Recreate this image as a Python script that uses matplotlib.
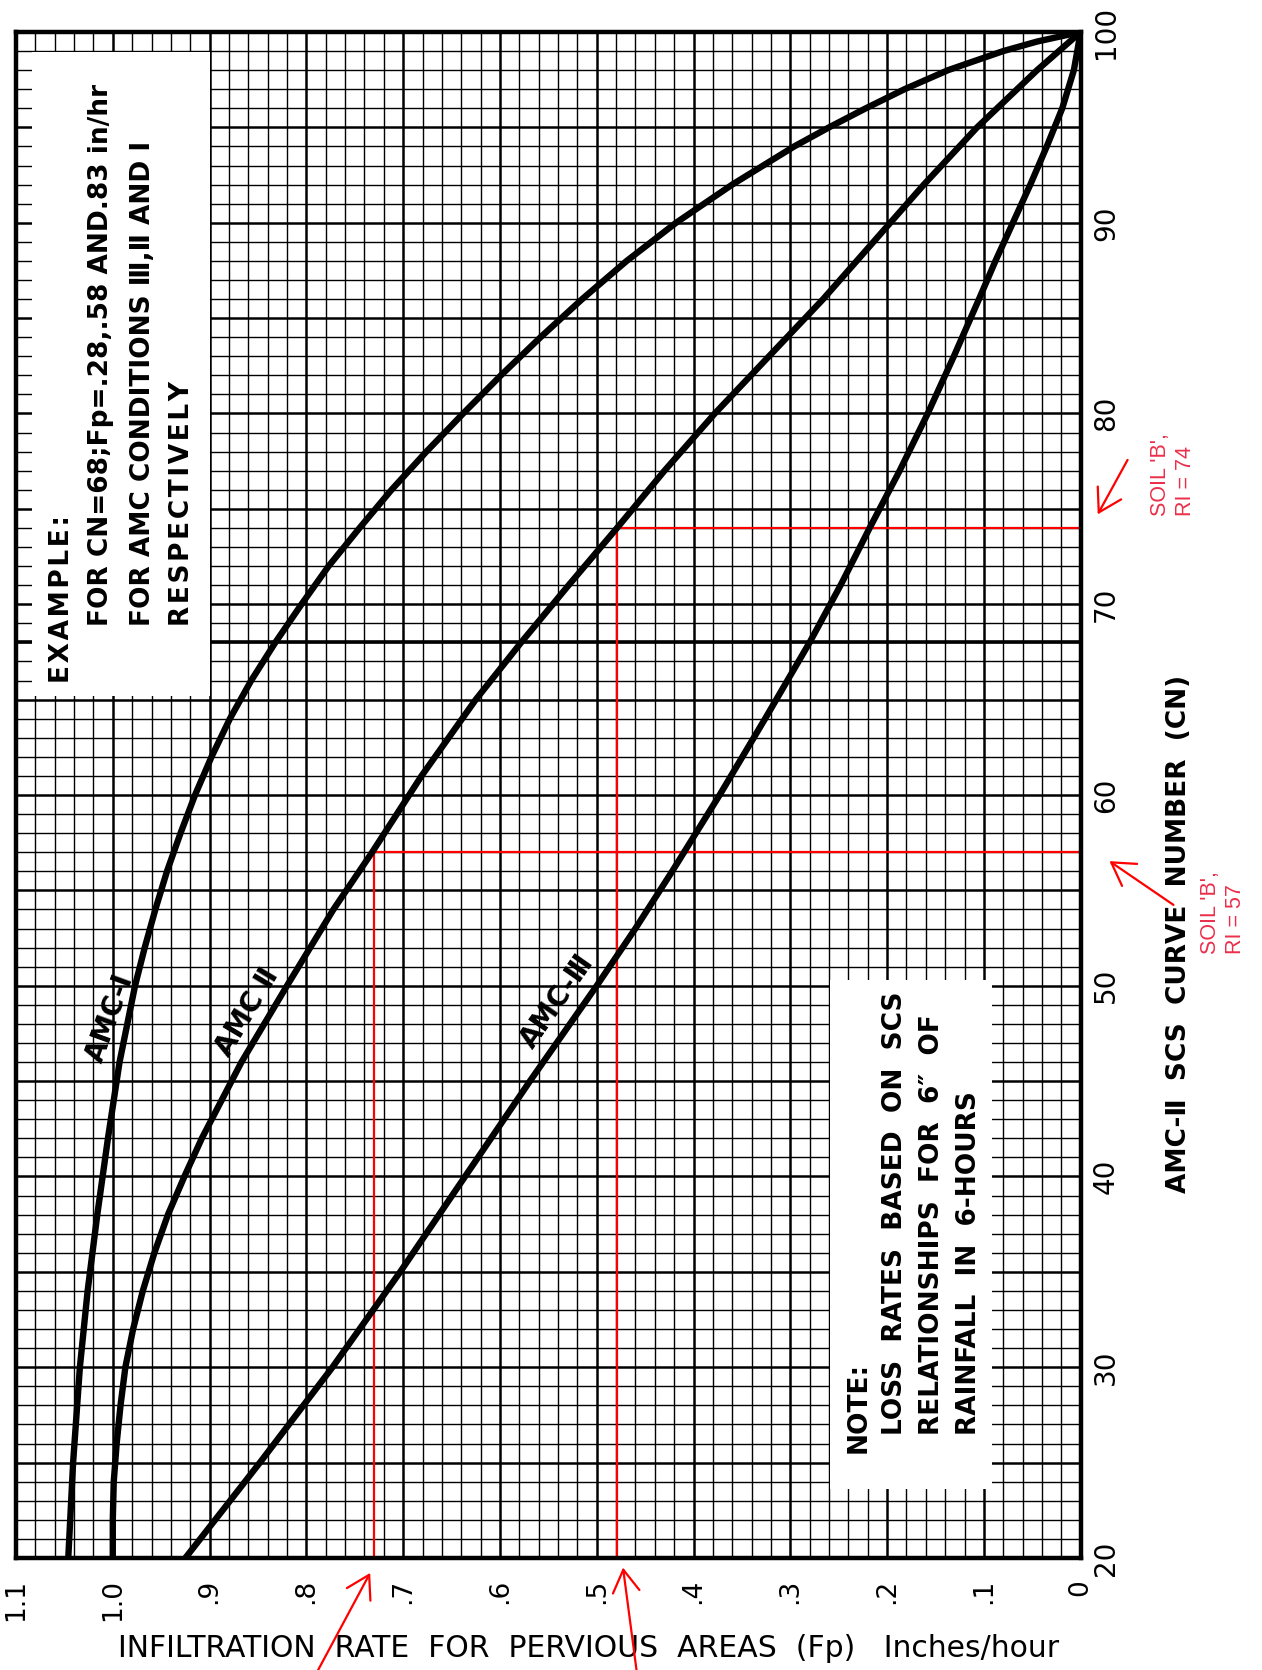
import numpy as np
import matplotlib
matplotlib.use("Agg")
import matplotlib.pyplot as plt
from matplotlib.patches import Rectangle, FancyArrowPatch

# AMC curves: curve number (CN) vs infiltration rate Fp (in/hr)
amc1_cn = [20, 25, 30, 34, 38, 42, 46, 50, 52, 54, 56, 58, 60, 62, 64, 66, 68, 70, 72,
           74, 76, 78, 80, 82, 84, 86, 88, 90, 92, 94, 95, 96, 97, 98, 99, 99.5, 100]
amc1_fp = [1.046, 1.041, 1.034, 1.026, 1.016, 1.005, 0.993, 0.977, 0.967, 0.956, 0.944,
           0.930, 0.915, 0.898, 0.879, 0.857, 0.832, 0.805, 0.777, 0.745, 0.712, 0.676,
           0.638, 0.599, 0.558, 0.515, 0.469, 0.418, 0.360, 0.296, 0.260, 0.222, 0.182,
           0.137, 0.080, 0.045, 0.0]

amc2_cn = [20, 22, 24, 26, 28, 30, 32, 34, 36, 38, 40, 42, 46, 50, 54, 57, 61, 65, 68,
           71, 74, 77, 80, 83, 86, 89, 92, 95, 98, 100]
amc2_fp = [1.000, 1.000, 0.999, 0.996, 0.992, 0.987, 0.979, 0.969, 0.957, 0.943, 0.926,
           0.908, 0.867, 0.820, 0.772, 0.732, 0.681, 0.625, 0.578, 0.529, 0.479, 0.430,
           0.378, 0.322, 0.266, 0.214, 0.162, 0.107, 0.045, 0.0]

amc3_cn = [20, 25, 30, 35, 40, 45, 50, 53, 56, 60, 64, 68, 71, 74, 77, 80, 83, 86, 88,
           90, 92, 94, 96, 98, 100]
amc3_fp = [0.925, 0.848, 0.773, 0.703, 0.636, 0.569, 0.500, 0.460, 0.422, 0.373, 0.326,
           0.280, 0.248, 0.218, 0.187, 0.158, 0.131, 0.105, 0.088, 0.070, 0.052, 0.035,
           0.019, 0.007, 0.0]

# red worked example: soil 'B' at RI 57 and 74 read on the AMC-II curve
soil_ri = [57, 74]
soil_fp = [0.730, 0.479]
soil_text = ["SOIL 'B',\nRI = 57", "SOIL 'B',\nRI = 74"]

fp_ticks = [1.1, 1.0, 0.9, 0.8, 0.7, 0.6, 0.5, 0.4, 0.3, 0.2, 0.1, 0.0]
fp_labels = ["1.1", "1.0", ".9", ".8", ".7", ".6", ".5", ".4", ".3", ".2", ".1", "0"]
cn_ticks = [20, 30, 40, 50, 60, 70, 80, 90, 100]
cn_labels = ["20", "30", "40", "50", "60", "70", "80", "90", "100"]

RED = "red"
RED_TEXT = "#eb2f4b"
HS = "\u200a"  # hair space, for the letter-spaced lettering

fig = plt.figure(figsize=(12.62, 16.70), dpi=100)

# layout was measured on a 1183 x 1565 view of the sheet
PW, PH = 1183.0, 1565.0


def fx(px):
    return px / PW


def fy(py):
    return 1.0 - py / PH


def put(px, py, s, **kw):
    # vertical text that reads bottom to top, starting at (px, py)
    opts = dict(rotation=90, rotation_mode="anchor", ha="left", va="center")
    opts.update(kw)
    fig.text(fx(px), fy(py), s, **opts)


def spaced(s):
    return HS.join(s)


ax = fig.add_axes([fx(15), fy(1460), fx(1013) - fx(15), fy(30) - fy(1460)])
ax.set_xlim(1.1, 0)
ax.set_ylim(20, 100)

# graph paper: fine lines every .02 in/hr and 1 CN, heavy every .1 and 5
for v in np.arange(0, 1.1001, 0.02):
    heavy = int(round(v * 50)) % 5 == 0
    ax.axvline(v, color="black", lw=1.8 if heavy else 1.0, zorder=1)
for c in range(20, 101):
    ax.axhline(c, color="black", lw=1.8 if c % 5 == 0 else 1.0, zorder=1)
ax.axhline(68, color="black", lw=2.6, zorder=1)

# blank panels for the notes
ax.add_patch(Rectangle((0.015, 0.565), 0.167, 0.422, transform=ax.transAxes,
                       facecolor="white", edgecolor="none", zorder=2))
ax.add_patch(Rectangle((0.7645, 0.0455), 0.152, 0.333, transform=ax.transAxes,
                       facecolor="white", edgecolor="none", zorder=2))

# red example lines
for ri, fp in zip(soil_ri, soil_fp):
    ax.plot([fp, fp, 0], [20, ri, ri], color=RED, lw=1.6, zorder=3)

for cn, fp in [(amc1_cn, amc1_fp), (amc2_cn, amc2_fp), (amc3_cn, amc3_fp)]:
    ax.plot(fp, cn, color="black", lw=4.6, solid_capstyle="round",
            solid_joinstyle="round", zorder=4)

ax.text(1.003, 48.3, "AMC-\u2160", rotation=70, rotation_mode="anchor", ha="center",
        va="center", fontsize=20, fontweight="bold", zorder=5)
ax.text(0.861, 48.6, "AMC \u2161", rotation=59, rotation_mode="anchor", ha="center",
        va="center", fontsize=20, fontweight="bold", zorder=5)
ax.text(0.541, 49.2, "AMC-\u2162", rotation=55, rotation_mode="anchor", ha="center",
        va="center", fontsize=20, fontweight="bold", zorder=5)

for sp in ax.spines.values():
    sp.set_linewidth(3.2)
    sp.set_zorder(6)

ax.set_xticks(fp_ticks)
ax.set_xticklabels(fp_labels, rotation=90, fontsize=19)
ax.yaxis.tick_right()
ax.set_yticks(cn_ticks)
ax.set_yticklabels(cn_labels, rotation=90, fontsize=20, va="center")
ax.tick_params(axis="x", length=0, pad=15)
ax.tick_params(axis="y", length=0, pad=8)

ax.set_xlabel("INFILTRATION  RATE  FOR  PERVIOUS  AREAS  (Fp)   Inches/hour", fontsize=21.5)
ax.xaxis.set_label_coords((552 - 15) / 998, -(1545 - 1460) / 1430)
ax.xaxis.label.set_va("center")
ax.yaxis.set_label_position("right")
ax.set_ylabel("AMC-\u2161  SCS  CURVE  NUMBER  (CN)", fontsize=19, fontweight="bold")
ax.yaxis.set_label_coords((1105 - 15) / 998, 1 - (875 - 30) / 1430)
ax.yaxis.label.set_va("center")
ax.yaxis.label.set_rotation(90)

# example panel
bold = dict(fontsize=19, fontweight="bold")
put(58, 640, spaced("EXAMPLE:"), **bold)
put(95, 587, "FOR CN=68;Fp=.28,.58 AND.83 in/hr", **bold)
put(134, 587, "FOR AMC CONDITIONS \u2162,\u2161 AND \u2160", **bold)
put(171, 587, spaced("RESPECTIVELY"), **bold)

# note panel
put(805, 1362, "NOTE:", **bold)
put(839, 1345, "LOSS  RATES  BASED  ON  SCS", **bold)
put(874, 1345, "RELATIONSHIPS  FOR  6\u2033  OF", **bold)
put(908, 1345, "RAINFALL  IN  6-HOURS", **bold)

# red callouts
put(1100, 484, soil_text[1], fontsize=15.5, color=RED_TEXT, family="Liberation Sans",
    linespacing=1.25)
put(1146, 894, soil_text[0], fontsize=15.5, color=RED_TEXT, family="Liberation Sans",
    linespacing=1.25)


def red_arrow(tip, tail):
    fig.add_artist(FancyArrowPatch((fx(tail[0]), fy(tail[1])), (fx(tip[0]), fy(tip[1])),
                                   transform=fig.transFigure,
                                   arrowstyle="->,head_length=0.8,head_width=0.48",
                                   mutation_scale=20, color=RED, lw=1.6,
                                   shrinkA=0, shrinkB=0))


red_arrow((347, 1474), (273, 1612))
red_arrow((584, 1469), (603, 1613))
red_arrow((1029, 482), (1057, 431))
red_arrow((1040, 807), (1100, 848))

fig.savefig("out.png", dpi=100)
